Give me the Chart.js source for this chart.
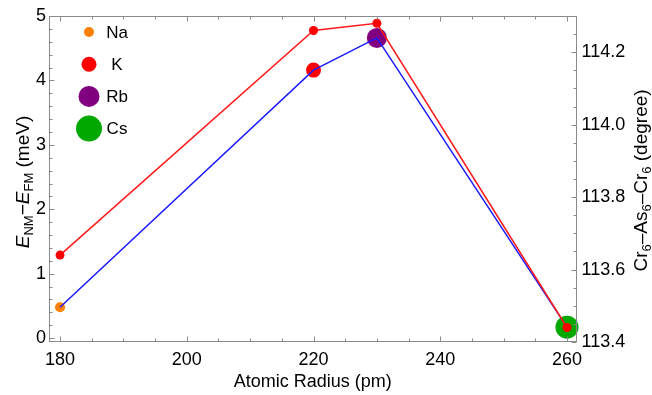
<!DOCTYPE html>
<html>
<head>
<meta charset="utf-8">
<script src="https://cdn.jsdelivr.net/npm/chart.js"></script>
<style>
  body { margin: 0; background: #fff; }
  canvas { display: block; }
</style>
</head>
<body>
<canvas id="chart" width="652" height="395"></canvas>
<script>
// Atomic radius of the dopant (pm)
const radii = [180, 220, 230, 260];
const elements = ['Na', 'K', 'Rb', 'Cs'];
// E_NM - E_FM (meV), left axis, blue line
const energyDiff = [0.48, 4.16, 4.66, 0.17];
// Cr6-As6-Cr6 angle (degree), right axis, red line
const bondAngle = [113.64, 114.26, 114.28, 113.44];

// tick labels
const xTicks = [180, 200, 220, 240, 260];
const yTicks = [0, 1, 2, 3, 4, 5];
const y2Ticks = [113.4, 113.6, 113.8, 114.0, 114.2];

const elementColors = ['#ff8000', '#ff0000', '#800080', '#00a800'];
const markerSizes = [5, 7.5, 10, 11.5];
const legendSizes = [5, 7.5, 10.5, 13];

const FONT = '"Liberation Sans", Arial, sans-serif';
const FRAME = '#8a8a8a';

// draw a string made of pieces (italic / subscript) rotated -90deg, centred at cx, cy
function drawRotatedRich(ctx, parts, cx, cy) {
    ctx.save();
    ctx.translate(cx, cy);
    ctx.rotate(-Math.PI / 2);
    ctx.fillStyle = '#000';
    ctx.textBaseline = 'alphabetic';
    ctx.textAlign = 'left';
    let total = 0;
    parts.forEach(p => {
        ctx.font = (p.italic ? 'italic ' : '') + (p.sub ? 13 : 19) + 'px ' + FONT;
        p.w = ctx.measureText(p.t).width;
        total += p.w;
    });
    let x = -total / 2;
    parts.forEach(p => {
        ctx.font = (p.italic ? 'italic ' : '') + (p.sub ? 13 : 19) + 'px ' + FONT;
        ctx.fillText(p.t, x, p.sub ? 10 : 6);
        x += p.w;
    });
    ctx.restore();
}

const framePlugin = {
    id: 'framePlugin',
    afterDatasetsDraw(chart) {
        const { ctx, chartArea: a, scales } = chart;
        const L = Math.round(a.left) + 0.5, R = Math.round(a.right) - 0.5;
        const T = Math.round(a.top) + 0.5, B = Math.round(a.bottom) - 0.5;
        ctx.save();
        ctx.strokeStyle = FRAME;
        ctx.lineWidth = 1;
        ctx.strokeRect(L, T, R - L, B - T);

        ctx.beginPath();
        // x ticks, bottom and top, pointing inward
        for (let v = 180; v <= 260; v += 5) {
            const px = Math.round(scales.x.getPixelForValue(v)) + 0.5;
            const len = v % 20 === 0 ? 5 : 3;
            ctx.moveTo(px, B); ctx.lineTo(px, B - len);
            ctx.moveTo(px, T); ctx.lineTo(px, T + len);
        }
        // left axis
        for (let i = 0; i <= 25; i++) {
            const v = i * 0.2;
            const py = Math.round(scales.y.getPixelForValue(v)) + 0.5;
            const len = i % 5 === 0 ? 5 : 3;
            ctx.moveTo(L, py); ctx.lineTo(L + len, py);
        }
        // right axis
        for (let i = 0; i <= 18; i++) {
            const v = 113.4 + i * 0.05;
            const py = Math.round(scales.y2.getPixelForValue(v)) + 0.5;
            const len = i % 4 === 0 ? 5 : 3;
            ctx.moveTo(R, py); ctx.lineTo(R - len, py);
        }
        ctx.stroke();
        ctx.restore();
    },
    afterDraw(chart) {
        const { ctx } = chart;
        drawRotatedRich(ctx, [
            { t: 'E', italic: true }, { t: 'NM', sub: true }, { t: '\u2212' },
            { t: 'E', italic: true }, { t: 'FM', sub: true }, { t: ' (meV)' }
        ], 23, 182);
        drawRotatedRich(ctx, [
            { t: 'Cr' }, { t: '6', sub: true }, { t: '\u2013As' }, { t: '6', sub: true },
            { t: '\u2013Cr' }, { t: '6', sub: true }, { t: ' (degree)' }
        ], 641, 180.5);

        // legend inside the plot
        ctx.save();
        ctx.font = '17px ' + FONT;
        ctx.textAlign = 'center';
        ctx.textBaseline = 'middle';
        elements.forEach((name, i) => {
            const y = 32 + i * 32.2;
            ctx.beginPath();
            ctx.arc(89, y, legendSizes[i], 0, Math.PI * 2);
            ctx.fillStyle = elementColors[i];
            ctx.fill();
            ctx.fillStyle = '#000';
            ctx.fillText(name, 117, y + 1);
        });
        ctx.restore();
    }
};

const energyPoints = radii.map((r, i) => ({ x: r, y: energyDiff[i] }));
const anglePoints = radii.map((r, i) => ({ x: r, y: bondAngle[i] }));

const tickFont = { family: FONT, size: 18 };
const noGrid = { display: false, drawTicks: false, tickLength: 0 };

new Chart(document.getElementById('chart'), {
    type: 'scatter',
    data: {
        datasets: [
            {
                label: 'elements',
                data: energyPoints,
                yAxisID: 'y',
                showLine: false,
                pointRadius: markerSizes,
                pointBackgroundColor: elementColors,
                pointBorderWidth: 0,
                clip: false,
                order: 3
            },
            {
                label: 'E_NM - E_FM',
                data: energyPoints,
                yAxisID: 'y',
                showLine: true,
                borderColor: '#1a1aff',
                borderWidth: 1.5,
                pointRadius: 0,
                order: 2
            },
            {
                label: 'angle',
                data: anglePoints,
                yAxisID: 'y2',
                showLine: true,
                borderColor: '#ff1a1a',
                borderWidth: 1.5,
                pointRadius: 4.5,
                pointBackgroundColor: '#ff0000',
                pointBorderWidth: 0,
                order: 1
            }
        ]
    },
    options: {
        responsive: false,
        animation: false,
        layout: { padding: { top: 16, left: 0, right: 0, bottom: 0 } },
        plugins: { legend: { display: false }, tooltip: { enabled: false } },
        scales: {
            x: {
                type: 'linear',
                min: 178.26,
                max: 261.5,
                grid: noGrid,
                border: { display: false },
                afterBuildTicks: s => { s.ticks = xTicks.map(v => ({ value: v })); },
                afterFit: s => { s.height = 53; },
                ticks: { font: tickFont, color: '#000', padding: 7, maxRotation: 0 },
                title: {
                    display: true,
                    text: 'Atomic Radius (pm)',
                    font: tickFont,
                    color: '#000',
                    padding: { top: 0, bottom: 2 }
                }
            },
            y: {
                position: 'left',
                min: -0.06,
                max: 5,
                grid: noGrid,
                border: { display: false },
                afterBuildTicks: s => { s.ticks = yTicks.map(v => ({ value: v })); },
                afterFit: s => { s.width = 49; },
                ticks: { font: tickFont, color: '#000', padding: 3 }
            },
            y2: {
                position: 'right',
                min: 113.4,
                max: 114.3,
                grid: noGrid,
                border: { display: false },
                afterBuildTicks: s => { s.ticks = y2Ticks.map(v => ({ value: v })); },
                afterFit: s => { s.width = 75.5; },
                ticks: {
                    font: tickFont,
                    color: '#000',
                    padding: 5,
                    callback: v => Number(v).toFixed(1)
                }
            }
        }
    },
    plugins: [framePlugin]
});
</script>
</body>
</html>
